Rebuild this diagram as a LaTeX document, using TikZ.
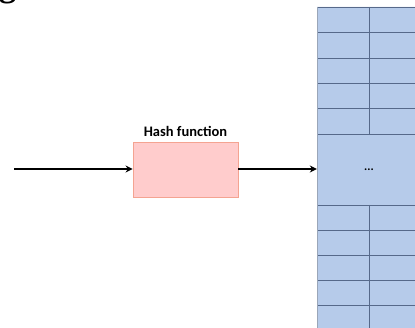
\documentclass[tikz,border=0pt]{standalone}
\usepackage{fontspec}
\setmainfont{Carlito}
\newfontfamily\headfont{Liberation Serif}
\usetikzlibrary{arrows.meta}
\definecolor{boxfill}{HTML}{FFCCCC}
\definecolor{boxline}{HTML}{F4A391}
\definecolor{cellfill}{HTML}{B6CBEA}
\definecolor{cellline}{HTML}{56698A}
\definecolor{edgeline}{HTML}{9AA6B8}
\tikzset{
  conn/.style={line width=1.8pt, -{Stealth[length=7pt,width=7pt]}},
  hashbox/.style={draw=boxline, fill=boxfill, line width=0.8pt, minimum width=105pt, minimum height=55pt, inner sep=0pt},
  cell/.style={draw=cellline, fill=cellfill, line width=0.8pt},
}
\begin{document}
\begin{tikzpicture}[x=1pt,y=-1pt]
\useasboundingbox (0,0) rectangle (415,328);
% fragment of a heading glyph at the top edge
\node[anchor=base west, inner sep=0pt, font=\headfont\bfseries\fontsize{34}{40}\selectfont] (head) at (-1,-3.5) {g};
% table
\foreach \y in {7,32.5,58,83,108.5} {
  \fill[cellfill] (317,\y) rectangle (420,\y+25.5);
  \draw[cell] (317,\y) -- (420,\y);
}
\fill[cellfill] (317,134) rectangle (420,205);
\draw[cell] (317,134) -- (420,134);
\foreach \y in {205,230,255,280,305} {
  \fill[cellfill] (317,\y) rectangle (420,\y+25);
  \draw[cell] (317,\y) -- (420,\y);
}
\draw[cell] (369,7) -- (369,134);
\draw[cell] (369,205) -- (369,330);
\draw[draw=edgeline, line width=1pt] (317,7) -- (317,330);
\node[inner sep=0pt, minimum width=104pt, minimum height=71pt, font=\bfseries\fontsize{12}{14}\selectfont] (dots) at (369,169.5) {...};
% hash box
\node[hashbox] (hash) at (185.5,169.5) {};
\node[anchor=base, inner sep=0pt, font=\bfseries\fontsize{14.5}{17}\selectfont] (hashlabel) at ([yshift=5pt]hash.north) {Hash function};
\coordinate (in) at (14,169);
\draw[conn] (in) -- (hash.west |- in);
\draw[conn] (hash.east |- in) -- (dots.west |- in);
\end{tikzpicture}
\end{document}
